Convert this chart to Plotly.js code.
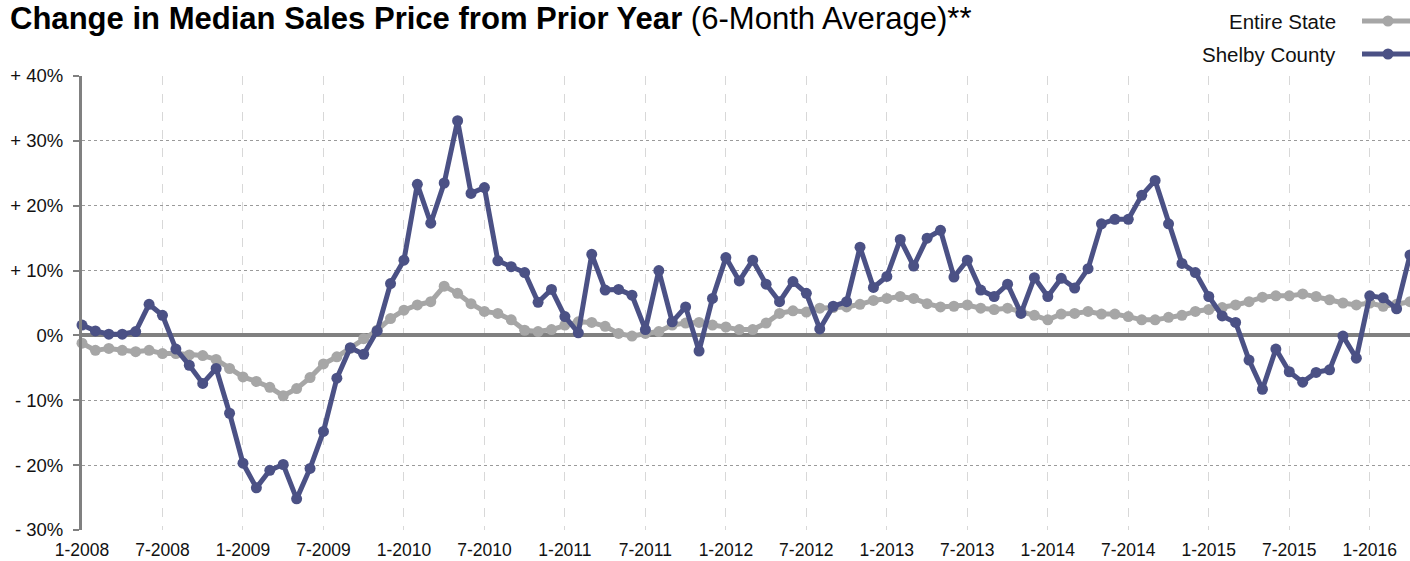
<!DOCTYPE html>
<html>
<head>
<meta charset="utf-8">
<script src="https://cdn.plot.ly/plotly-3.0.1.min.js"></script>
<style>
html,body{margin:0;padding:0;background:#fff;}
#chart{width:1410px;height:561px;}
</style>
</head>
<body>
<div id="chart"></div>
<script>
// Months from 1-2008 to 4-2016
var startYear = 2008, startMonth = 1, monthCount = 100;
var months = [];
for (var i = 0; i < monthCount; i++) {
  var m = (startMonth - 1 + i) % 12 + 1;
  var y = startYear + Math.floor((startMonth - 1 + i) / 12);
  months.push(m + '-' + y);
}

var seriesNames = ['Entire State', 'Shelby County'];

var entireState = [
  -1.2, -2.3, -2.0, -2.3, -2.5, -2.3, -2.8, -2.8, -3.0, -3.1,
  -3.7, -5.1, -6.4, -7.1, -8.0, -9.3, -8.2, -6.5, -4.4, -3.3,
  -2.0, -0.5, 0.8, 2.6, 3.9, 4.7, 5.2, 7.6, 6.5, 4.9,
  3.7, 3.4, 2.4, 0.8, 0.6, 0.9, 1.6, 2.1, 2.0, 1.4,
  0.3, -0.1, 0.3, 0.6, 1.6, 1.9, 2.0, 1.6, 1.3, 0.9,
  0.9, 1.9, 3.4, 3.8, 3.6, 4.2, 4.3, 4.4, 4.8, 5.4,
  5.7, 6.0, 5.7, 4.9, 4.4, 4.5, 4.7, 4.2, 4.0, 4.2,
  3.7, 3.1, 2.4, 3.3, 3.4, 3.7, 3.3, 3.3, 2.9, 2.4,
  2.4, 2.8, 3.1, 3.7, 4.0, 4.3, 4.7, 5.2, 5.9, 6.1,
  6.1, 6.4, 6.0, 5.5, 5.0, 4.7, 5.0, 4.5, 4.8, 5.2
];

var shelbyCounty = [
  1.6, 0.7, 0.2, 0.2, 0.6, 4.8, 3.1, -2.1, -4.6, -7.4,
  -5.1, -12.0, -19.7, -23.5, -20.8, -19.9, -25.2, -20.5, -14.8, -6.6,
  -1.9, -2.9, 0.7, 8.0, 11.6, 23.3, 17.3, 23.5, 33.1, 21.9,
  22.8, 11.5, 10.6, 9.7, 5.1, 7.1, 2.9, 0.4, 12.5, 7.0,
  7.1, 6.2, 0.9, 10.0, 2.1, 4.4, -2.4, 5.7, 12.0, 8.4,
  11.6, 7.9, 5.2, 8.3, 6.5, 1.0, 4.5, 5.2, 13.6, 7.4,
  9.1, 14.8, 10.7, 15.0, 16.2, 9.0, 11.6, 7.0, 6.0, 7.9,
  3.4, 8.9, 6.0, 8.8, 7.3, 10.3, 17.2, 17.9, 17.9, 21.6,
  23.9, 17.2, 11.1, 9.7, 6.0, 3.0, 2.0, -3.8, -8.3, -2.1,
  -5.6, -7.2, -5.7, -5.3, -0.1, -3.5, 6.1, 5.8, 4.1, 12.4
];

var yTickVals = [-30, -20, -10, 0, 10, 20, 30, 40];
var yTickText = ['- 30%', '- 20%', '- 10%', '0%', '+ 10%', '+ 20%', '+ 30%', '+ 40%'];
var xTickVals = months.filter(function (d, i) { return i % 6 === 0; });

var stateColor = '#a6a6a6';
var shelbyColor = '#4b5185';

var traces = [
  {
    x: months, y: entireState, name: seriesNames[0], type: 'scatter', mode: 'lines+markers',
    line: {color: stateColor, width: 5}, marker: {color: stateColor, size: 11},
    cliponaxis: false, hoverinfo: 'x+y'
  },
  {
    x: months, y: shelbyCounty, name: seriesNames[1], type: 'scatter', mode: 'lines+markers',
    line: {color: shelbyColor, width: 5}, marker: {color: shelbyColor, size: 11},
    cliponaxis: false, hoverinfo: 'x+y'
  }
];

var tickFam = 'Liberation Sans, Arial, Helvetica, sans-serif';

var L = 82, R = 0, T = 76, B = 31, W = 1410, H = 561;
var pw = W - L - R, ph = H - T - B;
function px2x(px) { return (px - L) / pw; }
function py2y(py) { return (H - B - py) / ph; }

var legendItems = [
  {name: seriesNames[0], color: stateColor, y: 21},
  {name: seriesNames[1], color: shelbyColor, y: 54}
];
var annotations = legendItems.map(function (it) {
  return {
    xref: 'paper', yref: 'paper', x: px2x(1338), y: py2y(it.y),
    text: it.name, showarrow: false, xanchor: 'right', yanchor: 'middle',
    font: {family: tickFam, size: 20.5, color: '#111'}
  };
});
var shapes = [];
legendItems.forEach(function (it) {
  shapes.push({
    type: 'line', xref: 'paper', yref: 'paper', x0: px2x(1362), x1: px2x(1412),
    y0: py2y(it.y), y1: py2y(it.y), line: {color: it.color, width: 5}
  });
  shapes.push({
    type: 'circle', xref: 'paper', yref: 'paper', xsizemode: 'pixel', ysizemode: 'pixel',
    xanchor: px2x(1388), yanchor: py2y(it.y), x0: -5.5, x1: 5.5, y0: -5.5, y1: 5.5,
    fillcolor: it.color, line: {color: it.color, width: 0}
  });
});

var layout = {
  width: W, height: H,
  margin: {l: L, r: R, t: T, b: B, pad: 0},
  paper_bgcolor: '#ffffff', plot_bgcolor: '#ffffff',
  showlegend: false,
  title: {
    text: '<b>Change in Median Sales Price from Prior Year</b> (6-Month Average)**',
    x: 10 / W, xanchor: 'left', xref: 'container',
    y: 1 - 18 / H, yanchor: 'middle', yref: 'container',
    font: {family: tickFam, size: 32, color: '#000'}
  },
  xaxis: {
    type: 'category', range: [0, monthCount - 1],
    tickmode: 'array', tickvals: xTickVals, ticktext: xTickVals,
    showgrid: true, gridcolor: '#d8d8d8', griddash: 'dash', gridwidth: 1,
    showline: false, zeroline: false, ticks: '',
    ticklabelstandoff: 7,
    tickfont: {family: tickFam, size: 17.5, color: '#111'},
    fixedrange: true
  },
  yaxis: {
    range: [-30, 40], tickmode: 'array', tickvals: yTickVals, ticktext: yTickText,
    showgrid: true, gridcolor: '#9a9a9a', griddash: 'dot', gridwidth: 1,
    zeroline: true, zerolinecolor: '#808080', zerolinewidth: 4,
    showline: true, linecolor: '#808080', linewidth: 3,
    ticks: 'outside', ticklen: 6, tickwidth: 2, tickcolor: '#808080',
    ticklabelstandoff: 6,
    tickfont: {family: tickFam, size: 18.5, color: '#111'},
    fixedrange: true
  },
  annotations: annotations,
  shapes: shapes
};

function squeezeTitle() {
  var t = document.querySelector('#chart .gtitle');
  if (!t) return;
  t.removeAttribute('transform');
  var bb = t.getBBox();
  var target = 962;
  if (bb.width > 0) {
    var s = target / bb.width;
    var x0 = bb.x;
    t.setAttribute('transform', 'translate(' + (x0 * (1 - s)) + ',0) scale(' + s + ',1)');
  }
}

Plotly.newPlot('chart', traces, layout, {displayModeBar: false, staticPlot: true}).then(squeezeTitle);
</script>
</body>
</html>
